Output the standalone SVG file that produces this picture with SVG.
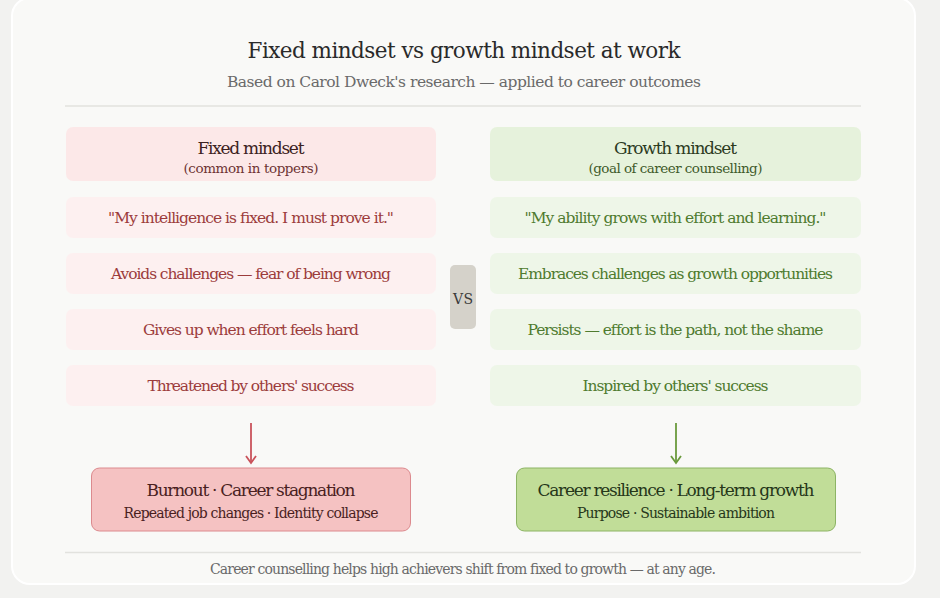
<svg xmlns="http://www.w3.org/2000/svg" width="940" height="598" viewBox="0 0 940 598">
<defs>
<style>
text{font-family:"DejaVu Serif","Liberation Serif",serif;text-anchor:middle}
.title{font-size:21.5px;fill:#2a2a2a}
.sub{font-size:15.5px;fill:#6a6a6a}
.hdr{font-size:17px}
.hsub{font-size:13.5px}
.item{font-size:15.5px}
.lh{fill:#3c2222}.lhs{fill:#6e3434}
.rh{fill:#2c3b1f}.rhs{fill:#3f5a2a}
.li{fill:#9c3c3c}.ri{fill:#4f7b2f}
.o1{font-size:17px}.o2{font-size:14px}
.foot{font-size:14px;fill:#6a6a6a}
.div{stroke:#e2e2de;stroke-width:1.5}
</style>
<marker id="ar" viewBox="0 0 12 12" refX="10" refY="6" markerWidth="12" markerHeight="12" markerUnits="userSpaceOnUse" orient="auto">
<path d="M3,1 L10,6 L3,11" fill="none" stroke="context-stroke" stroke-width="1.8"/>
</marker>
</defs>
<rect width="940" height="598" fill="#f2f2f0"/>
<rect x="12" y="-2" width="903" height="586" rx="18" fill="#f9f9f7" stroke="#ffffff" stroke-width="2"/>
<g id="header">
<text class="title" x="464" y="58" textLength="433">Fixed mindset vs growth mindset at work</text>
<text class="sub" x="464" y="87" textLength="474">Based on Carol Dweck's research — applied to career outcomes</text>
<line class="div" x1="65" y1="106" x2="861" y2="106"/>
</g>
<g id="fixed-header">
<rect x="66" y="127" width="370" height="54" rx="7" fill="#fce8e8"/>
<text class="hdr lh" x="251" y="154" textLength="107">Fixed mindset</text>
<text class="hsub lhs" x="251" y="173" textLength="135">(common in toppers)</text>
</g>
<g id="fixed-1">
<rect x="66" y="197" width="370" height="41" rx="7" fill="#fdf0f0"/>
<text class="item li" x="251" y="223" textLength="286">"My intelligence is fixed. I must prove it."</text>
</g>
<g id="fixed-2">
<rect x="66" y="253" width="370" height="41" rx="7" fill="#fdf0f0"/>
<text class="item li" x="251" y="279" textLength="280">Avoids challenges — fear of being wrong</text>
</g>
<g id="fixed-3">
<rect x="66" y="309" width="370" height="41" rx="7" fill="#fdf0f0"/>
<text class="item li" x="251" y="335" textLength="216">Gives up when effort feels hard</text>
</g>
<g id="fixed-4">
<rect x="66" y="365" width="370" height="41" rx="7" fill="#fdf0f0"/>
<text class="item li" x="251" y="391" textLength="207">Threatened by others' success</text>
</g>
<g id="growth-header">
<rect x="490" y="127" width="371" height="54" rx="7" fill="#e6f2dc"/>
<text class="hdr rh" x="675.5" y="154" textLength="123">Growth mindset</text>
<text class="hsub rhs" x="675.5" y="173" textLength="174">(goal of career counselling)</text>
</g>
<g id="growth-1">
<rect x="490" y="197" width="371" height="41" rx="7" fill="#eef6e8"/>
<text class="item ri" x="675.5" y="223" textLength="302">"My ability grows with effort and learning."</text>
</g>
<g id="growth-2">
<rect x="490" y="253" width="371" height="41" rx="7" fill="#eef6e8"/>
<text class="item ri" x="675.5" y="279" textLength="315">Embraces challenges as growth opportunities</text>
</g>
<g id="growth-3">
<rect x="490" y="309" width="371" height="41" rx="7" fill="#eef6e8"/>
<text class="item ri" x="675.5" y="335" textLength="296">Persists — effort is the path, not the shame</text>
</g>
<g id="growth-4">
<rect x="490" y="365" width="371" height="41" rx="7" fill="#eef6e8"/>
<text class="item ri" x="675.5" y="391" textLength="186">Inspired by others' success</text>
</g>
<g id="vs">
<rect x="450" y="265" width="26" height="64" rx="5" fill="#d5d2ca"/>
<text x="463" y="304" style="font-size:14px;fill:#3a3a3a" textLength="20">VS</text>
</g>
<g id="connectors">
<line x1="251" y1="423" x2="251" y2="463" stroke="#c9535b" stroke-width="1.8" marker-end="url(#ar)"/>
<line x1="676" y1="423" x2="676" y2="463" stroke="#6a9a3c" stroke-width="1.8" marker-end="url(#ar)"/>
</g>
<g id="fixed-outcome">
<rect x="91.5" y="468" width="319" height="63" rx="8" fill="#f5c2c2" stroke="#dc8a8e" stroke-width="1"/>
<text class="o1" x="251" y="496" fill="#4a1f1f" textLength="209">Burnout · Career stagnation</text>
<text class="o2" x="251" y="518" fill="#4a1f1f" textLength="255">Repeated job changes · Identity collapse</text>
</g>
<g id="growth-outcome">
<rect x="516.5" y="468" width="319" height="63" rx="8" fill="#c1dd98" stroke="#8db465" stroke-width="1"/>
<text class="o1" x="676" y="496" fill="#26371a" textLength="277">Career resilience · Long-term growth</text>
<text class="o2" x="676" y="518" fill="#26371a" textLength="198">Purpose · Sustainable ambition</text>
</g>
<g id="footer">
<line class="div" x1="65" y1="552.5" x2="861" y2="552.5"/>
<text class="foot" x="463" y="574" textLength="506">Career counselling helps high achievers shift from fixed to growth — at any age.</text>
</g>
</svg>
